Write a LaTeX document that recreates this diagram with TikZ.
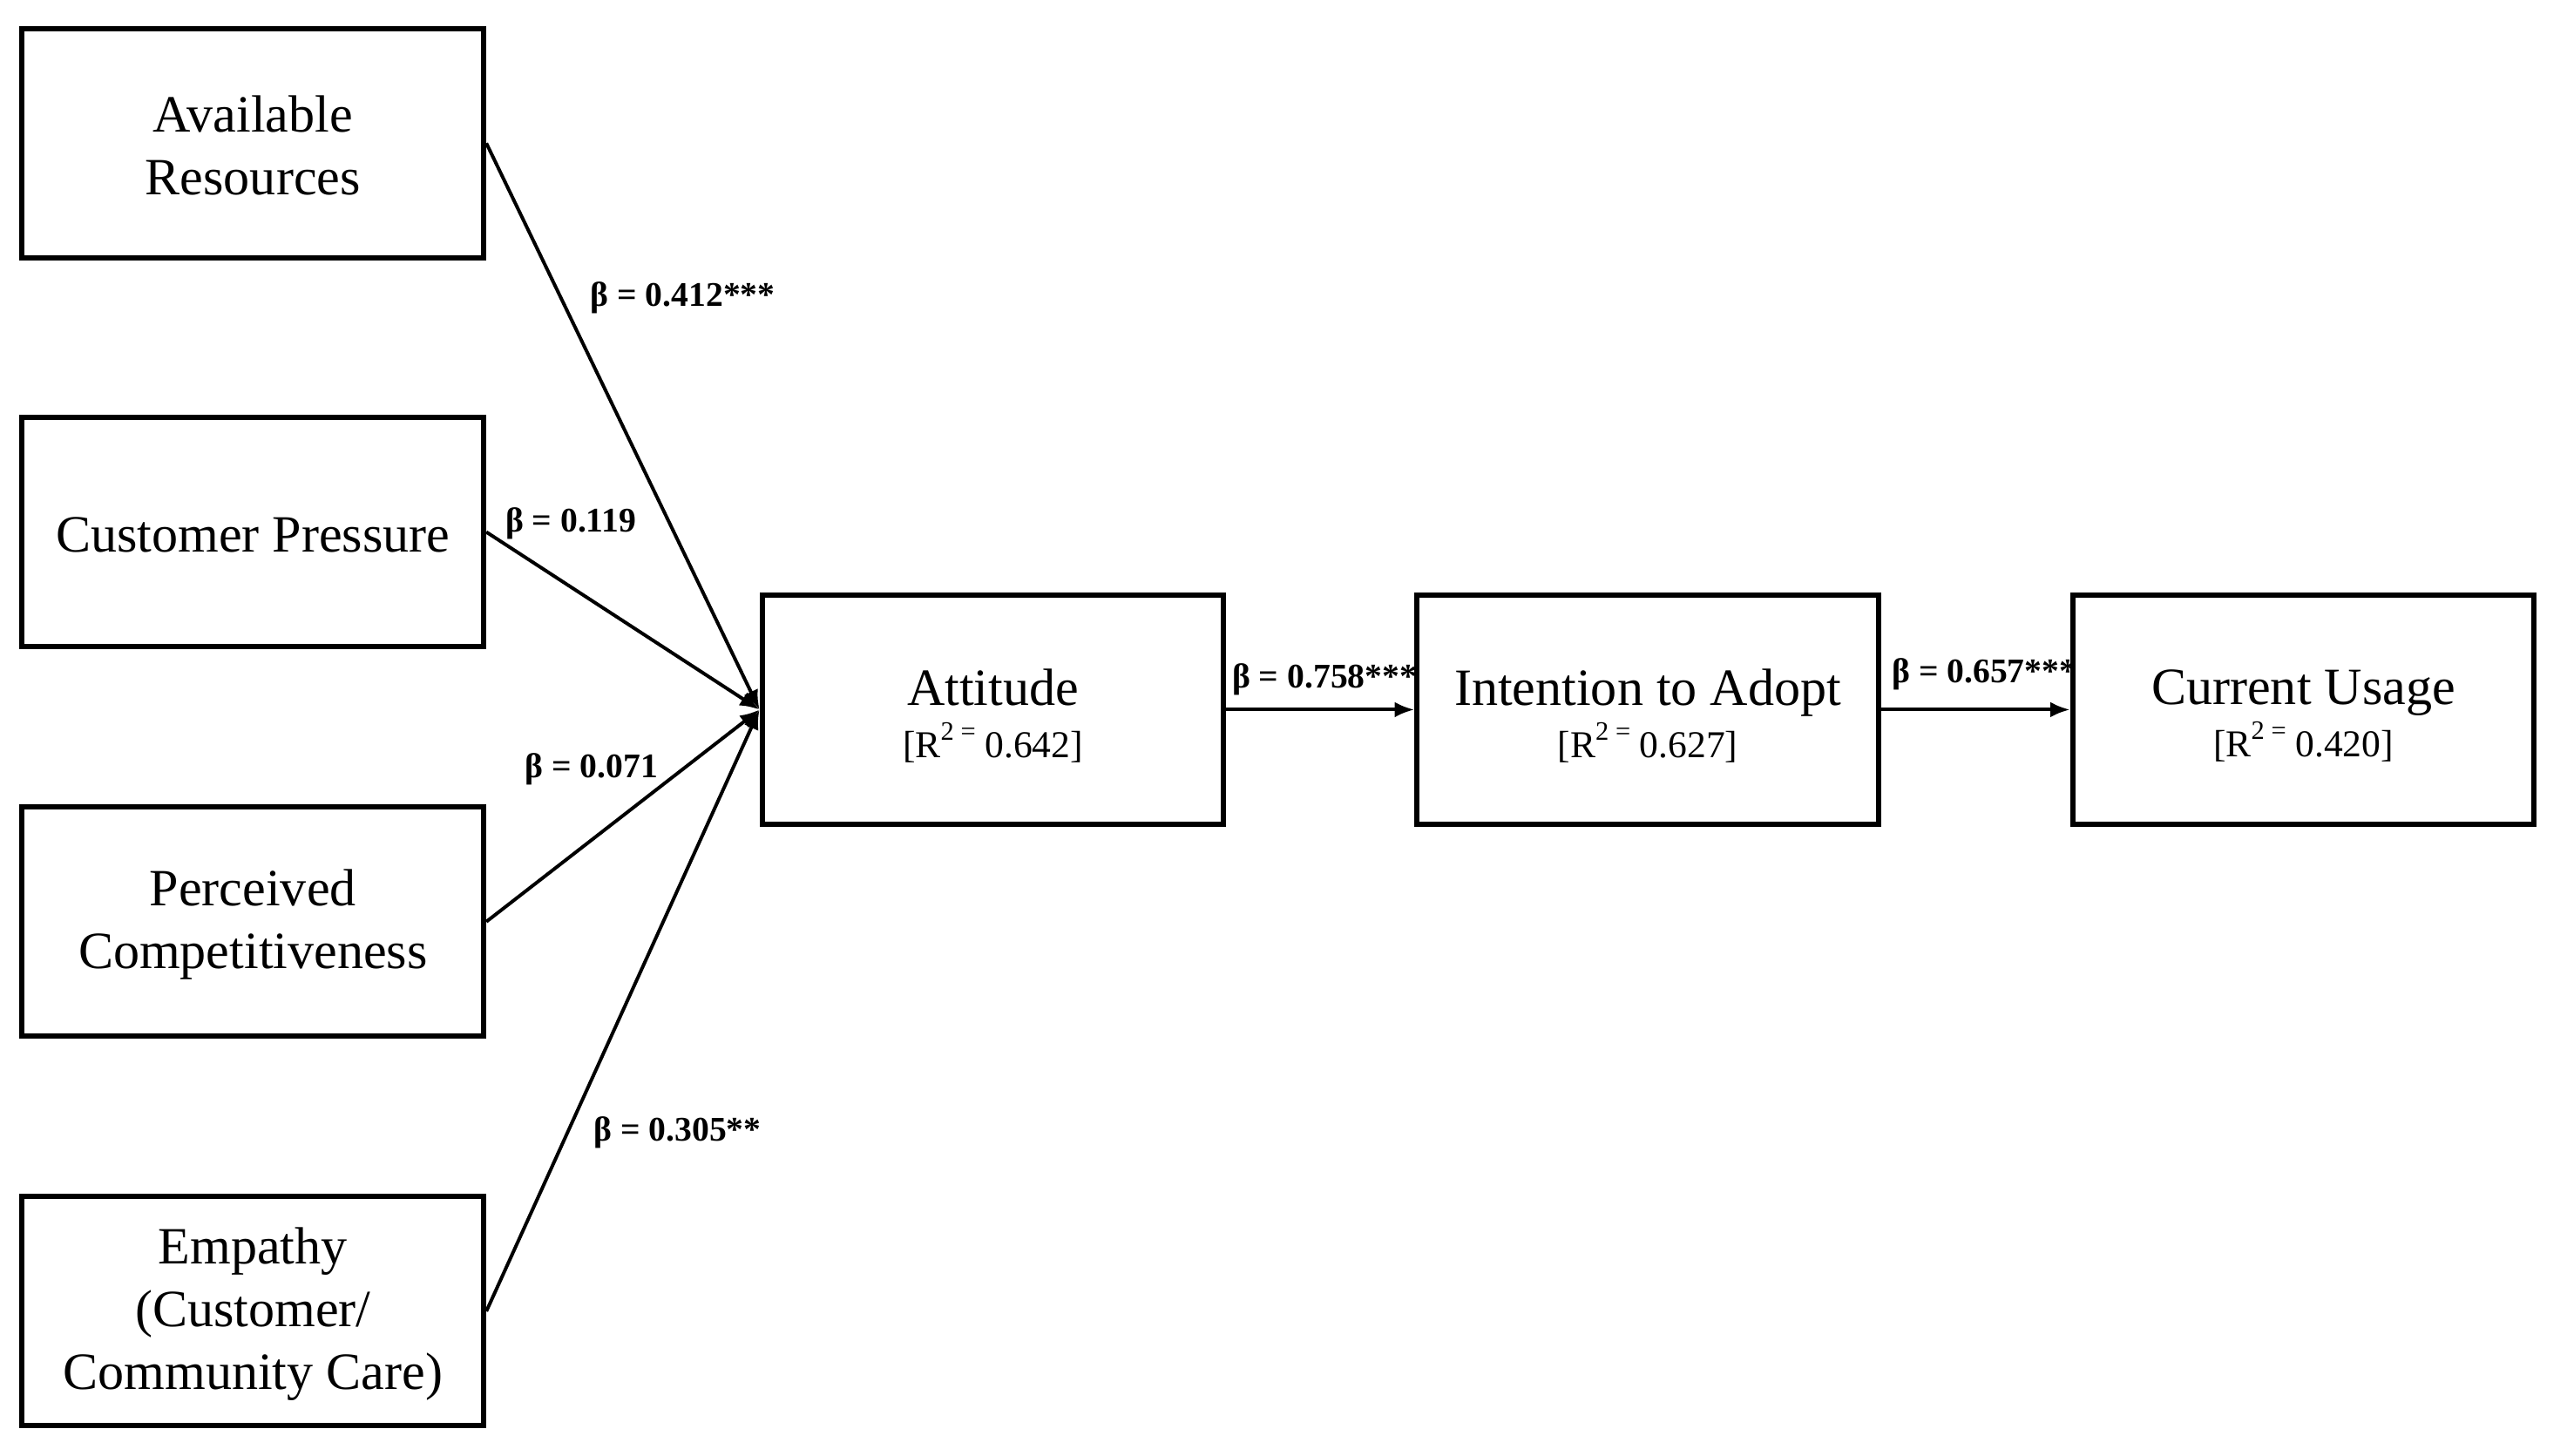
\documentclass[tikz,border=0pt]{standalone}
\usepackage{fontspec}
\setmainfont{Liberation Serif}
\usetikzlibrary{arrows.meta}
\begin{document}
\begin{tikzpicture}[x=0.1mm,y=-0.1mm,
  box/.style={draw=black,line width=0.9pt,minimum width=28.2mm,minimum height=14.0mm,inner sep=0pt},
  boxtext/.style={inner sep=0pt,align=center,font=\fontsize{9.1}{10.9}\selectfont},
  conn/.style={line width=0.6pt,-{Latex[length=1.2mm,width=0.95mm]}},
  coef/.style={anchor=west,inner sep=0pt,font=\fontsize{6.0}{7}\selectfont\bfseries}]
\useasboundingbox (0,0) rectangle (1568,889);
\newcommand{\rsq}[1]{{\fontsize{6.6}{7}\selectfont [R\textsuperscript{2 =}\,#1]}}
\node[box] (ar) at (154.5,87.5) {};
\node[box] (cp) at (154.5,325) {};
\node[box] (pc) at (154.5,563) {};
\node[box] (em) at (154.5,801) {};
\node[box] (att) at (606.5,433.5) {};
\node[box] (int) at (1006.5,433.5) {};
\node[box] (cu) at (1407,433.5) {};
\node[boxtext,yshift=-0.4pt] (ar-t) at (ar.center) {Available\\Resources};
\node[boxtext,yshift=-0.5pt] (cp-t) at (cp.center) {Customer Pressure};
\node[boxtext,yshift=-0.5pt] (pc-t) at (pc.center) {Perceived\\Competitiveness};
\node[boxtext,yshift=-0.5pt] (em-t) at (em.center) {Empathy\\(Customer/\\Community Care)};
\node[boxtext,yshift=-1.1pt] (att-t) at (att.center) {Attitude\\[-1.8pt]\rsq{0.642}};
\node[boxtext,yshift=-1.1pt] (int-t) at (int.center) {Intention to Adopt\\[-1.8pt]\rsq{0.627}};
\node[boxtext,yshift=-1.1pt] (cu-t) at (cu.center) {Current Usage\\[-1.8pt]\rsq{0.420}};
\draw[conn] (ar.east) -- (att.west);
\draw[conn] (cp.east) -- (att.west);
\draw[conn] (pc.east) -- (att.west);
\draw[conn] (em.east) -- (att.west);
\draw[conn] (att.east) -- (int.west);
\draw[conn] (int.east) -- (cu.west);
\node[coef] (l1) at (360,182) {β = 0.412***};
\node[coef] (l2) at (308,320) {β = 0.119};
\node[coef] (l3) at (320,470) {β = 0.071};
\node[coef] (l4) at (362,692) {β = 0.305**};
\node[coef] (l5) at (752,415) {β = 0.758***};
\node[coef] (l6) at (1155,412) {β = 0.657***};
\end{tikzpicture}
\end{document}
